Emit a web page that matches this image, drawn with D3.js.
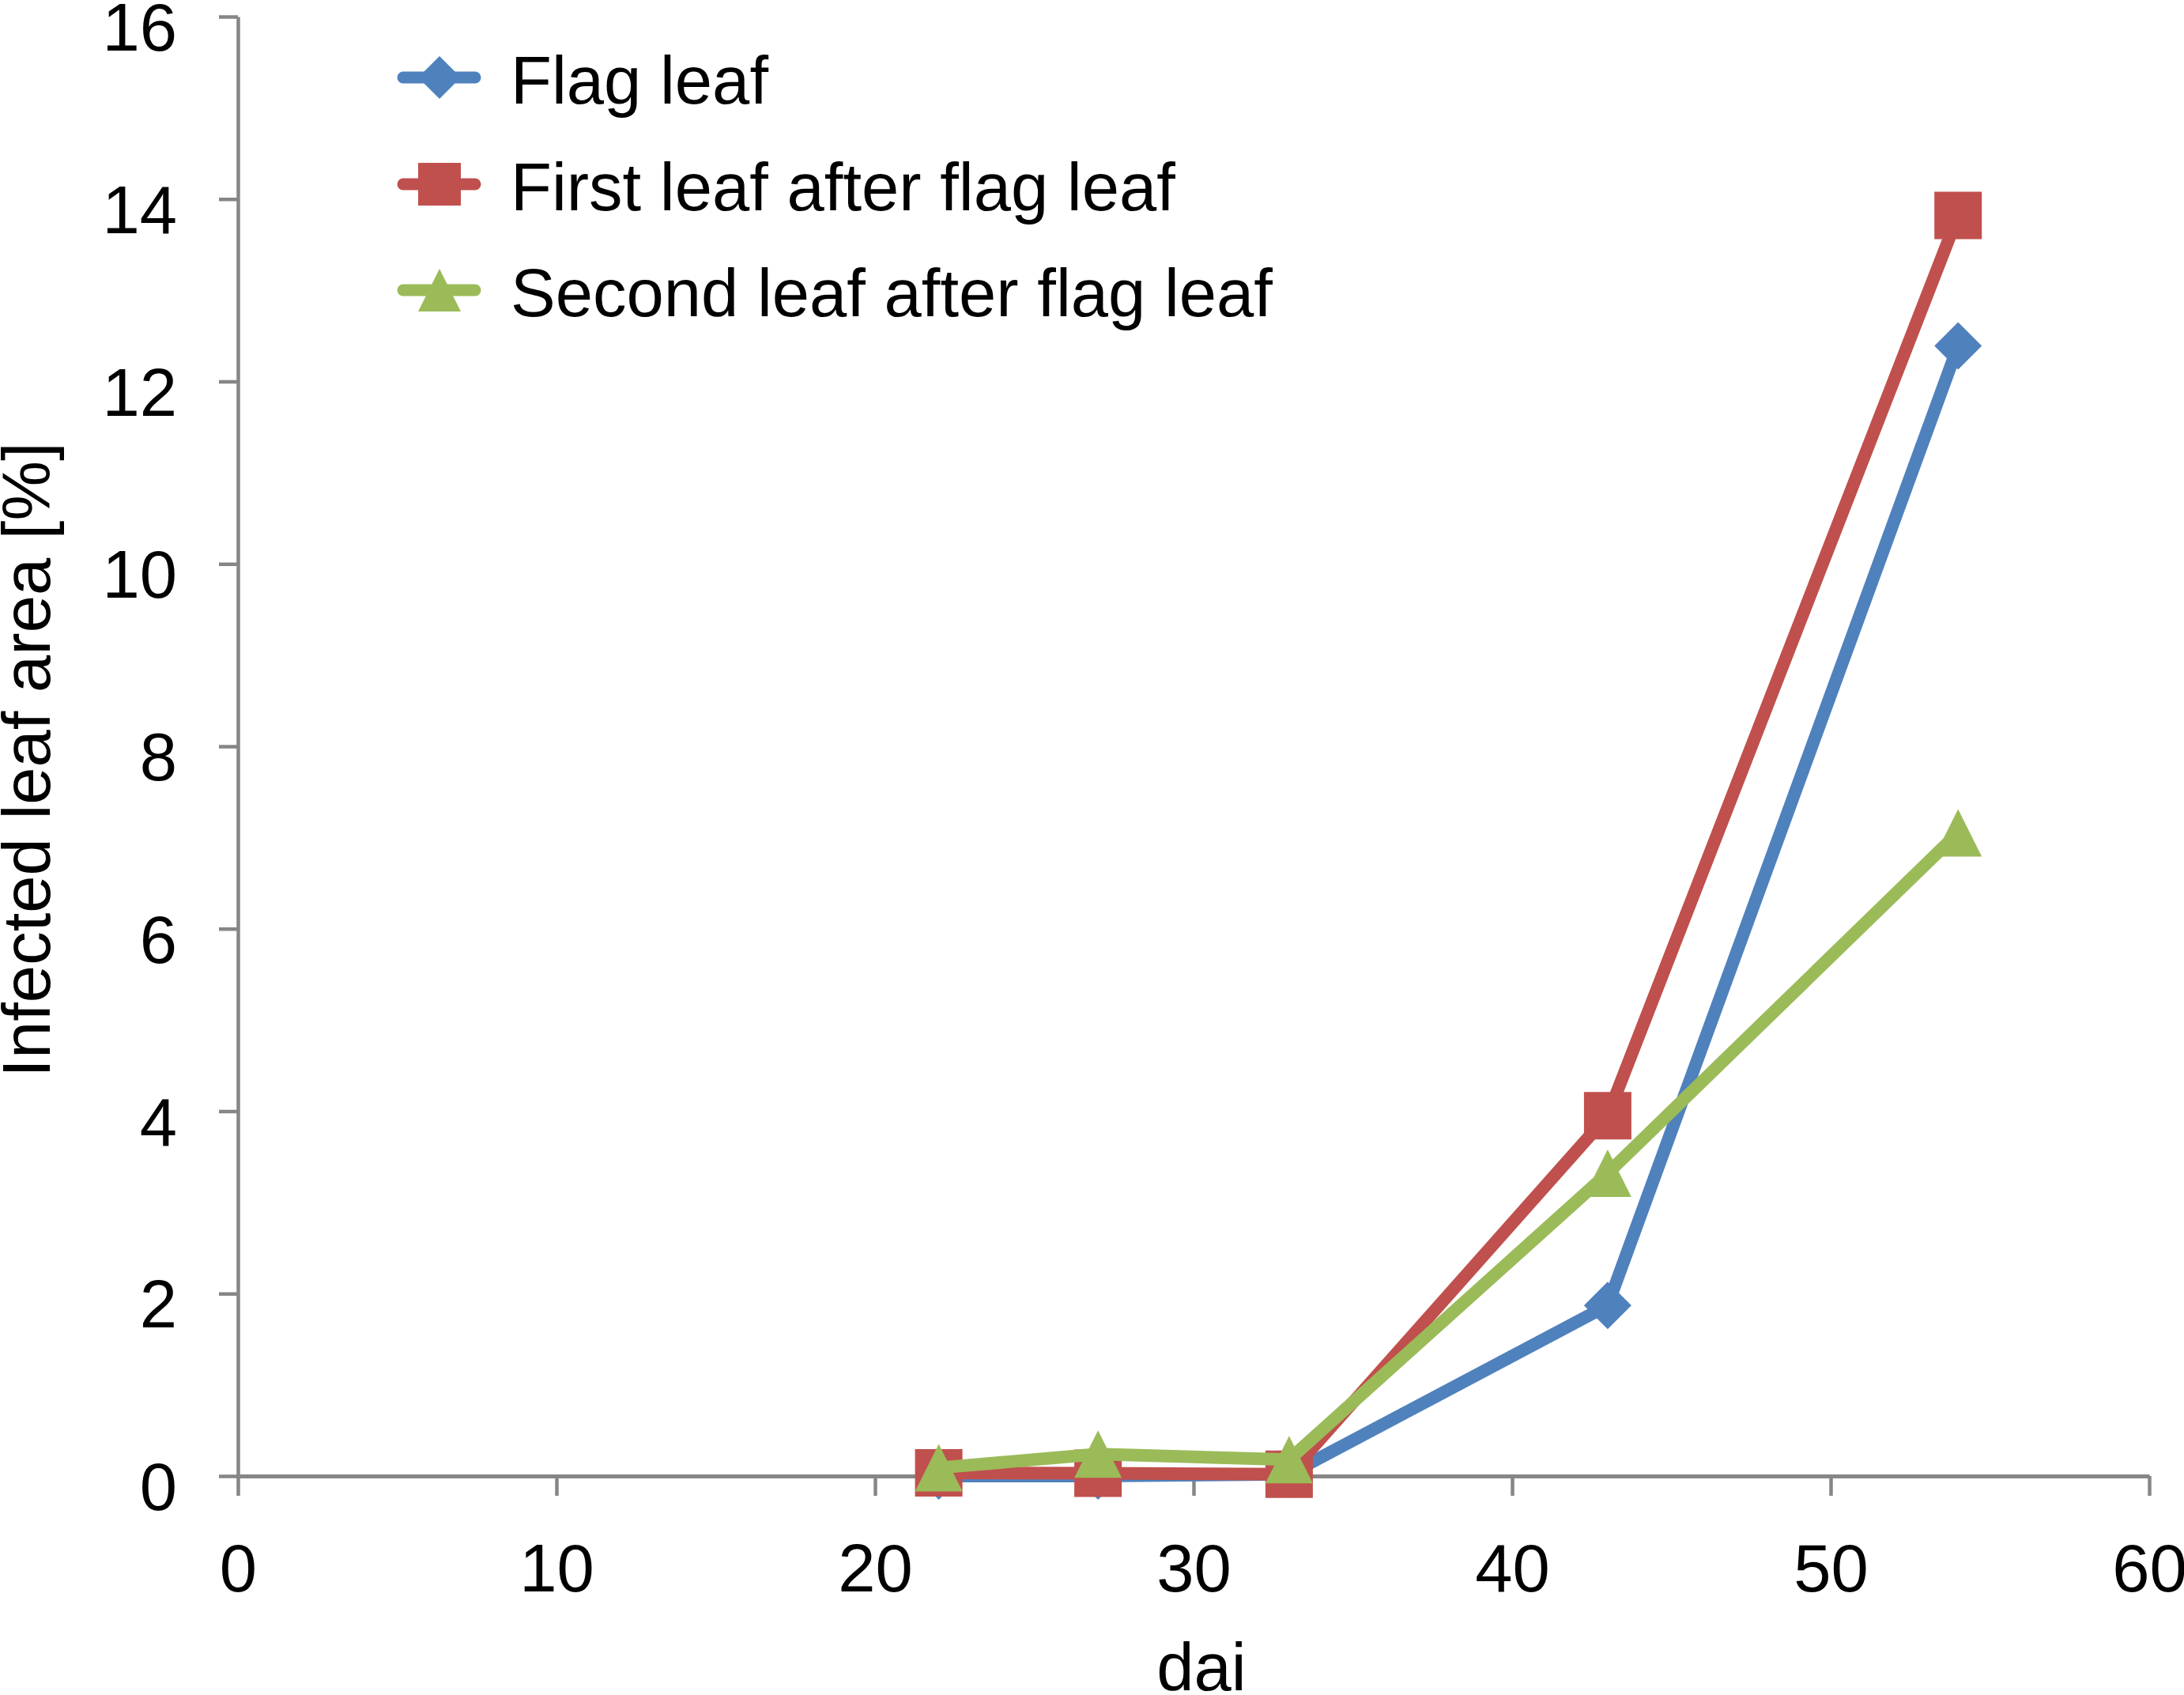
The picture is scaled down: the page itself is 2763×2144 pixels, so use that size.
<!DOCTYPE html>
<html>
<head>
<meta charset="utf-8">
<script src="https://cdn.jsdelivr.net/npm/d3@7"></script>
<style>
  body { margin: 0; background: #fff; }
  text { font-family: "Liberation Sans", Arial, sans-serif; fill: #000; }
</style>
</head>
<body>
<svg id="chart"></svg>
<script>
const width = 2763;
const height = 2144;

const days = [22, 27, 33, 43, 54];
const flagLeaf = [0, 0, 0.02, 1.87, 12.39];
const firstLeaf = [0.035, 0.03, 0.02, 3.95, 13.82];
const secondLeaf = [0.09, 0.24, 0.18, 3.32, 7.05];
const xTicks = [0, 10, 20, 30, 40, 50, 60];
const yTicks = [0, 2, 4, 6, 8, 10, 12, 14, 16];

const series = [
  { name: "Flag leaf", values: flagLeaf, color: "#4F81BD", shape: "diamond" },
  { name: "First leaf after flag leaf", values: firstLeaf, color: "#C0504D", shape: "square" },
  { name: "Second leaf after flag leaf", values: secondLeaf, color: "#9BBB59", shape: "triangle" }
];

const x = d3.scaleLinear().domain([0, 60]).range([301, 2719]);
const y = d3.scaleLinear().domain([0, 16]).range([1867, 21]);

const svg = d3.select("#chart")
  .attr("width", width)
  .attr("height", height);

const axisColor = "#868686";
const fontSize = 85;

// y axis
const yAxis = svg.append("g")
  .attr("transform", `translate(${x(0)},0)`)
  .call(d3.axisLeft(y).tickValues(yTicks).tickSize(24).tickSizeOuter(0).tickFormat(d3.format("d")));
yAxis.select(".domain").attr("stroke", axisColor).attr("stroke-width", 4.5);
yAxis.selectAll(".tick line").attr("stroke", axisColor).attr("stroke-width", 4.5);
yAxis.selectAll(".tick text")
  .attr("x", -77)
  .attr("dy", "0.5em")
  .style("font-size", fontSize + "px")
  .style("font-family", "'Liberation Sans', Arial, sans-serif")
  .attr("fill", "#000");

// x axis
const xAxis = svg.append("g")
  .attr("transform", `translate(0,${y(0)})`)
  .call(d3.axisBottom(x).tickValues(xTicks).tickSize(25).tickSizeOuter(0).tickFormat(d3.format("d")));
xAxis.select(".domain").attr("stroke", axisColor).attr("stroke-width", 5);
xAxis.selectAll(".tick line").attr("stroke", axisColor).attr("stroke-width", 4.5);
xAxis.selectAll(".tick text")
  .attr("y", 146)
  .attr("dy", 0)
  .style("font-size", fontSize + "px")
  .style("font-family", "'Liberation Sans', Arial, sans-serif")
  .attr("fill", "#000");

// axis titles
svg.append("text")
  .attr("x", 1520)
  .attr("y", 2138)
  .attr("text-anchor", "middle")
  .style("font-size", fontSize + "px")
  .text("dai");

svg.append("text")
  .attr("transform", "translate(63,961) rotate(-90)")
  .attr("text-anchor", "middle")
  .style("font-size", fontSize + "px")
  .text("Infected leaf area [%]");

const markerSize = 60;
function markerPath(shape, s) {
  const h = s / 2;
  if (shape === "diamond") return `M0,${-h}L${h},0L0,${h}L${-h},0Z`;
  if (shape === "square") return `M${-h},${-h}H${h}V${h}H${-h}Z`;
  return `M0,${-h}L${h},${h}H${-h}Z`;
}

const line = d3.line()
  .x(d => x(d.day))
  .y(d => y(d.value));

series.forEach(s => {
  const pts = days.map((day, i) => ({ day, value: s.values[i] }));
  const g = svg.append("g");
  g.append("path")
    .attr("d", line(pts))
    .attr("fill", "none")
    .attr("stroke", s.color)
    .attr("stroke-width", 16)
    .attr("stroke-linejoin", "round");
  g.selectAll("path.marker")
    .data(pts)
    .enter().append("path")
    .attr("class", "marker")
    .attr("transform", d => `translate(${x(d.day)},${y(d.value)})`)
    .attr("d", markerPath(s.shape, markerSize))
    .attr("fill", s.color);
});

// legend
const legendRows = [98, 233, 367];
const legend = svg.append("g");
series.forEach((s, i) => {
  const ly = legendRows[i];
  legend.append("line")
    .attr("x1", 510).attr("x2", 601)
    .attr("y1", ly).attr("y2", ly)
    .attr("stroke", s.color)
    .attr("stroke-width", 15)
    .attr("stroke-linecap", "round");
  legend.append("path")
    .attr("transform", `translate(556,${ly})`)
    .attr("d", markerPath(s.shape, 54))
    .attr("fill", s.color);
  legend.append("text")
    .attr("x", 646)
    .attr("y", ly + 33)
    .style("font-size", fontSize + "px")
    .text(s.name);
});
</script>
</body>
</html>
